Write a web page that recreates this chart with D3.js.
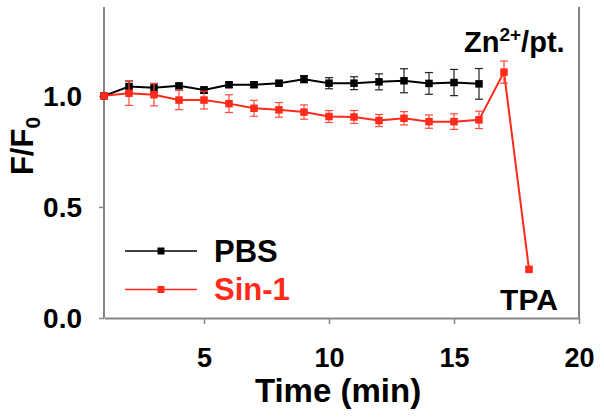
<!DOCTYPE html>
<html><head><meta charset="utf-8">
<script src="https://cdn.jsdelivr.net/npm/d3@7"></script>
<style>
html,body{margin:0;padding:0;background:#fff;}
svg{display:block;font-family:"Liberation Sans",Arial,sans-serif;font-weight:bold;}
</style></head>
<body>
<svg id="chart" width="604" height="420"></svg>
<script>
const times = [1,2,3,4,5,6,7,8,9,10,11,12,13,14,15,16,17,18];
const pbsValues = [1.0,1.042,1.036,1.045,1.026,1.05,1.05,1.057,1.075,1.057,1.057,1.063,1.068,1.056,1.06,1.054];
const pbsErrors = [0,0.025,0.02,0.01,0.015,0.012,0.012,0.012,0.016,0.025,0.029,0.036,0.054,0.049,0.059,0.069];
const sinValues = [1.0,1.012,1.005,0.981,0.981,0.965,0.944,0.937,0.927,0.907,0.905,0.889,0.899,0.884,0.884,0.892,1.107,0.219];
const sinErrors = [0,0.055,0.05,0.043,0.04,0.04,0.036,0.033,0.032,0.027,0.029,0.027,0.03,0.03,0.035,0.039,0.05,0.008];
const xTicks = [5,10,15,20];
const yTicks = [0.0,0.5,1.0];
const seriesNames = ["PBS","Sin-1"];
const seriesColors = ["#000000","#ff2a1a"];

const svg = d3.select("#chart");
const L=104,R=579,T=7,B=318;
const x = d3.scaleLinear().domain([1,20]).range([L,R]);
const y = d3.scaleLinear().domain([0,1.4]).range([B,T]);
const axisColor = "#858585";

// axes
const xAxis = svg.append("g").attr("transform",`translate(0,${B})`)
  .call(d3.axisBottom(x).tickValues(xTicks).tickFormat(d3.format("d")).tickSize(6).tickSizeOuter(0));
const yAxis = svg.append("g").attr("transform",`translate(${L},0)`)
  .call(d3.axisLeft(y).tickValues(yTicks).tickFormat(d3.format(".1f")).tickSize(5).tickSizeOuter(0).tickPadding(17));
[xAxis,yAxis].forEach(g=>{
  g.select(".domain").attr("stroke",axisColor).attr("stroke-width",2);
  g.selectAll(".tick line").attr("stroke",axisColor).attr("stroke-width",1.5);
  g.selectAll(".tick text").attr("fill","#000").style("font-weight","bold")
    .style("font-family",'"Liberation Sans",Arial,sans-serif');
});
yAxis.selectAll(".tick text").style("font-size","28px").attr("dy","0.35em");
xAxis.selectAll(".tick text").style("font-size","27px").attr("dy",0).attr("y",49);
// right frame line
svg.append("line").attr("x1",R).attr("x2",R).attr("y1",T).attr("y2",B)
  .attr("stroke",axisColor).attr("stroke-width",2);
// extend left axis to top
yAxis.select(".domain").attr("d",`M0,${y(1.4)}V${B}`);

// series
const pbs = pbsValues.map((v,i)=>({t:times[i],v,e:pbsErrors[i]}));
const sin = sinValues.map((v,i)=>({t:times[i],v,e:sinErrors[i]}));
const line = d3.line().x(d=>x(d.t)).y(d=>y(d.v));

function drawSeries(data,color,errColor){
  const g = svg.append("g");
  g.append("path").datum(data).attr("d",line).attr("fill","none").attr("stroke",color).attr("stroke-width",2);
  const eb = g.selectAll(".eb").data(data.filter(d=>d.e>0)).enter().append("g");
  eb.append("line").attr("x1",d=>x(d.t)).attr("x2",d=>x(d.t)).attr("y1",d=>y(d.v-d.e)).attr("y2",d=>y(d.v+d.e))
    .attr("stroke",errColor).attr("stroke-width",1.2);
  eb.append("line").attr("x1",d=>x(d.t)-4).attr("x2",d=>x(d.t)+4).attr("y1",d=>y(d.v-d.e)).attr("y2",d=>y(d.v-d.e))
    .attr("stroke",errColor).attr("stroke-width",1.2);
  eb.append("line").attr("x1",d=>x(d.t)-4).attr("x2",d=>x(d.t)+4).attr("y1",d=>y(d.v+d.e)).attr("y2",d=>y(d.v+d.e))
    .attr("stroke",errColor).attr("stroke-width",1.2);
  g.selectAll(".m").data(data).enter().append("rect")
    .attr("x",d=>x(d.t)-3.75).attr("y",d=>y(d.v)-3.75).attr("width",7.5).attr("height",7.5).attr("fill",color);
}
drawSeries(pbs,seriesColors[0],"#222");
drawSeries(sin,seriesColors[1],"#ff4a3a");

// legend
const legY = [251,289.5];
seriesNames.forEach((n,i)=>{
  svg.append("line").attr("x1",125).attr("x2",197).attr("y1",legY[i]).attr("y2",legY[i])
    .attr("stroke",seriesColors[i]).attr("stroke-width",1.5);
  svg.append("rect").attr("x",161-3.5).attr("y",legY[i]-3.5).attr("width",7).attr("height",7).attr("fill",seriesColors[i]);
  svg.append("text").attr("x",214).attr("y",legY[i]+10.5).attr("fill",seriesColors[i])
    .style("font-size","31px").text(n);
});

// annotations
const zn = svg.append("text").attr("x",464).attr("y",52).style("font-size","29px").attr("fill","#000");
zn.append("tspan").text("Zn");
zn.append("tspan").attr("dy",-11).style("font-size","19px").text("2+");
zn.append("tspan").attr("dy",11).text("/pt.");
svg.append("text").attr("x",x(18)).attr("y",310).attr("text-anchor","middle").style("font-size","30px").text("TPA");

// axis titles
svg.append("text").attr("x",338).attr("y",402).attr("text-anchor","middle").style("font-size","33px").text("Time (min)");
const yt = svg.append("text").attr("transform","translate(33,146) rotate(-90)").attr("text-anchor","middle").style("font-size","31px");
yt.append("tspan").text("F/F");
yt.append("tspan").attr("dy",7).style("font-size","21px").text("0");
</script>
</body></html>
